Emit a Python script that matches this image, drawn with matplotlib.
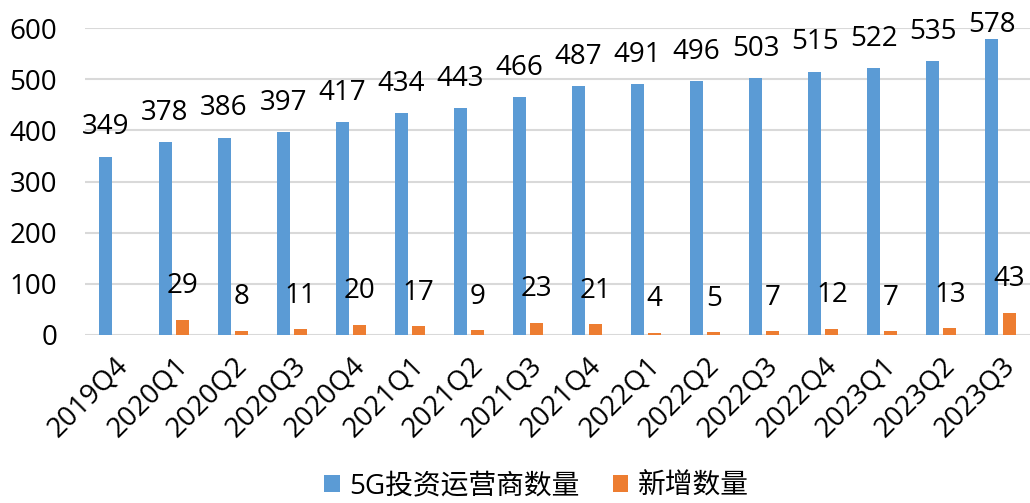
import numpy as np
import matplotlib.pyplot as plt

plt.rcParams['font.family'] = ['Open Sans', 'Noto Sans CJK SC', 'DejaVu Sans']

quarters = ["2019Q4", "2020Q1", "2020Q2", "2020Q3", "2020Q4", "2021Q1", "2021Q2",
            "2021Q3", "2021Q4", "2022Q1", "2022Q2", "2022Q3", "2022Q4", "2023Q1",
            "2023Q2", "2023Q3"]
operators = [349, 378, 386, 397, 417, 434, 443, 466, 487, 491, 496, 503, 515, 522, 535, 578]
new_added = [np.nan, 29, 8, 11, 20, 17, 9, 23, 21, 4, 5, 7, 12, 7, 13, 43]

blue = "#5B9BD5"
orange = "#ED7D31"
fs = 20

fig = plt.figure(figsize=(10.30, 5.03), dpi=100)
ax = fig.add_axes([0.0825, 0.334, 0.9175, 0.61])

x = np.arange(len(quarters))
w = 0.22
b1 = ax.bar(x - 0.145, operators, width=w, color=blue, label="5G投资运营商数量", zorder=3)
b2 = ax.bar(x + 0.145, new_added, width=w, color=orange, label="新增数量", zorder=3)

# labels sit above the bars, kept inside the chart area like Excel does
for xi, v in zip(x, operators):
    ax.text(xi - 0.145, min(v + 57, 606), str(v), ha="center", va="center",
            fontsize=fs, clip_on=False)
for xi, v in zip(x, new_added):
    if np.isnan(v):
        continue
    ax.text(xi + 0.145, v + 66, str(int(v)), ha="center", va="center",
            fontsize=fs, clip_on=False)

ax.set_xlim(-0.5, len(quarters) - 0.5)
ax.set_ylim(0, 600)
ax.set_yticks(range(0, 601, 100))
ax.yaxis.grid(True, color="#d9d9d9", linewidth=1.5, zorder=0)
for s in ax.spines.values():
    s.set_visible(False)
ax.tick_params(axis="both", length=0, labelsize=fs)
ax.tick_params(axis="y", pad=20)
ax.tick_params(axis="x", pad=12)
ax.set_xticks(x)
ax.set_xticklabels(quarters, rotation=45, ha="right", rotation_mode="anchor")

fig.legend(handles=[b1, b2], loc="lower center", bbox_to_anchor=(0.521, -0.045), ncol=2,
           frameon=False, fontsize=fs, handlelength=0.55, handleheight=0.55,
           columnspacing=1.2, handletextpad=0.35)

fig.savefig("out.png", dpi=100)
